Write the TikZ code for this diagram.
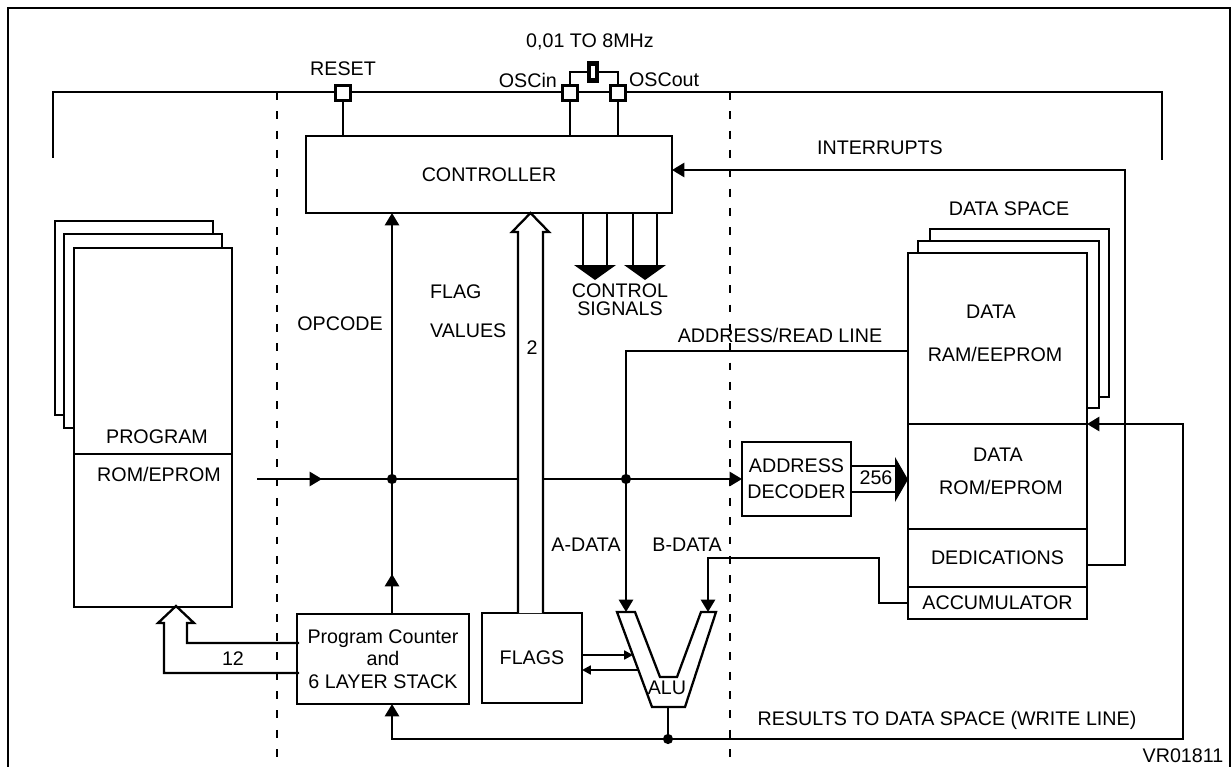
\documentclass[tikz,border=0pt]{standalone}
\usepackage{fontspec}
\setmainfont{Liberation Sans}
\usepackage{tikz}
\usetikzlibrary{arrows.meta, positioning, calc}

\newcommand\pxu{0.02cm}

\begin{document}
\begin{tikzpicture}[
  x=0.02cm, y=-0.02cm,
  line width=1.3pt,
  font=\fontsize{11.2}{13.5}\selectfont,
  box/.style={draw, fill=white, inner sep=0pt, outer sep=0pt, align=center},
  lbl/.style={inner sep=0pt, align=center},
  padbox/.style={draw, fill=white, inner sep=0pt, outer sep=0pt, minimum size=15*\pxu},
  xtal/.style={draw, fill=white, line width=2.4pt, inner sep=0pt, outer sep=0pt,
               minimum width=8*\pxu, minimum height=17*\pxu},
  arr/.style={-{Triangle[length=7pt,width=8pt]}},
  sarr/.style={-{Triangle[length=5pt,width=5pt]}},
  divider/.style={line width=1.6pt, dash pattern=on 4.5pt off 6.5pt},
  jdot/.style={circle, fill, inner sep=0pt, minimum size=5.8pt}
]
  \useasboundingbox (0,0) rectangle (1231,767);

  % frame, supply bracket, chip boundaries
  \draw[line width=1.1pt] (8,767) -- (8,8) -- (1230,8) -- (1230,767);
  \draw (53,158) -- (53,92) -- (1162,92) -- (1162,160);
  \draw[divider] (277,92) -- (277,767);
  \draw[divider] (730,92) -- (730,767);

  % controller and its pins
  \node[box, minimum width=366*\pxu, minimum height=77*\pxu] (ctrl) at (489,174.5) {CONTROLLER};
  \node[padbox] (reset)  at (343,93) {};
  \node[padbox] (oscin)  at (570,93) {};
  \node[padbox] (oscout) at (618,93) {};
  \node[xtal]   (xtal)   at (593,72) {};
  \draw (reset.south)  -- (reset.south  |- ctrl.north);
  \draw (oscin.south)  -- (oscin.south  |- ctrl.north);
  \draw (oscout.south) -- (oscout.south |- ctrl.north);
  \draw (oscin.north)  |- (xtal.west);
  \draw (oscout.north) |- (xtal.east);
  \node[lbl, above=5pt of reset] {RESET};
  \node[lbl] at (590,42) {0,01 TO 8MHz};
  \node[lbl, anchor=east] at (558,80) {OSCin};
  \node[lbl, anchor=west] at (628,80) {OSCout};

  % program memory
  \draw[fill=white] (55,221) rectangle (213,415);
  \draw[fill=white] (64,234) rectangle (222,428);
  \node[box, minimum width=158*\pxu, minimum height=206*\pxu] (prog) at (153,351) {};
  \node[box, minimum width=158*\pxu, minimum height=153*\pxu] (rom)  at (153,530.5) {};
  \node[lbl] at (157,437) {PROGRAM};
  \node[lbl] at (159,474) {ROM/EPROM};

  % data space
  \node[lbl] at (1009,209) {DATA SPACE};
  \draw[fill=white] (930,229) rectangle (1109,397);
  \draw[fill=white] (918,241) rectangle (1099,408);
  \node[box, minimum width=179*\pxu, minimum height=171*\pxu] (dram)  at (997.5,338.5) {};
  \node[box, minimum width=179*\pxu, minimum height=105*\pxu] (drom)  at (997.5,476.5) {};
  \node[box, minimum width=179*\pxu, minimum height=58*\pxu]  (dedic) at (997.5,558) {DEDICATIONS};
  \node[box, minimum width=179*\pxu, minimum height=32*\pxu]  (accum) at (997.5,603) {ACCUMULATOR};
  \node[lbl] at (991,312)  {DATA};
  \node[lbl] at (995,354)  {RAM/EEPROM};
  \node[lbl] at (998,455)  {DATA};
  \node[lbl] at (1001,487) {ROM/EPROM};

  % decoder, pc, flags
  \node[box, minimum width=109*\pxu, minimum height=74*\pxu] (dec) at (796.5,479) {ADDRESS\\[1.5pt]DECODER};
  \node[box, minimum width=172*\pxu, minimum height=90*\pxu,
        font=\fontsize{11.2}{12.8}\selectfont] (pc) at (383,659) {Program Counter\\and\\6 LAYER STACK};
  \node[box, minimum width=100*\pxu, minimum height=90*\pxu] (flags) at (532,658) {FLAGS};

  % ALU
  \draw (617,612) -- (652,707) -- (685,707) -- (716,612) -- (701,612)
        -- (677,677) -- (660,677) -- (635,612) -- cycle;
  \node[lbl] (alu) at (667,688) {ALU};
  \coordinate (alua) at (626,612);
  \coordinate (alub) at (708,612);
  \coordinate (aluo) at (668,707);

  % main bus
  \coordinate (busin) at (257,479);
  \coordinate (op)    at (392,479);
  \coordinate (adot)  at (626,479);
  \draw[arr] (busin) -- (dec.west);
  \draw[arr] (busin) -- (322,479);
  \draw[arr] (pc.north -| op) -- (ctrl.south -| op);
  \draw[arr] (pc.north -| op) -- ++(0,-40);
  \node[jdot] at (op) {};
  \node[jdot] at (adot) {};

  % flag values
  \draw[fill=white] (518,613) -- (518,232) -- (512,232) -- (530.5,213)
                    -- (549,232) -- (543,232) -- (543,613);
  \node[lbl] at (532,348) {2};

  % control signals
  \foreach \cx in {595,645} {
    \draw (\cx-12,213) -- (\cx-12,265) (\cx+12,213) -- (\cx+12,265);
    \fill (\cx-21,265) -- (\cx+21,265) -- (\cx,280) -- cycle;
  }

  % read line, operands
  \coordinate (rd) at (908,351);
  \draw (adot) |- (rd);
  \draw[arr] (adot) -- (alua);
  \coordinate (bturn) at (879,558);
  \draw[arr] (accum.west) -| (bturn) -| (alub);
  \coordinate (fa) at (633,655);
  \coordinate (fb) at (638,670);
  \draw[sarr] (fa -| flags.east) -- (fa);
  \draw[sarr] (fb) -- (fb -| flags.east);

  % write line
  \coordinate (rdot) at (668,739);
  \coordinate (wr) at (1183,424);
  \draw (aluo) -- (rdot);
  \draw[arr] (rdot) -| (pc.south -| op);
  \draw[arr] (rdot) -| (wr) -- (wr -| drom.east);
  \node[jdot] at (rdot) {};

  % interrupts
  \coordinate (intr) at (1125,170);
  \draw[arr] ([yshift=-4pt]dedic.east) -| (intr) -- (intr -| ctrl.east);

  % pc to program memory (12)
  \draw (299,643) -- (187,643) -- (187,623) -- (194,623) -- (176,606)
        -- (158,623) -- (164,623) -- (164,673) -- (299,673);
  \node[lbl] at (233,659) {12};

  % decoder to data rom (256)
  \draw (dec.east |- 0,466) -- (895,466);
  \draw (dec.east |- 0,492) -- (895,492);
  \fill (895,457) -- (908,479.5) -- (895,502) -- cycle;
  \node[lbl] at (876,478) {256};

  % labels
  \node[lbl] at (880,148) {INTERRUPTS};
  \node[lbl, font=\fontsize{11.2}{10}\selectfont] at (620,300) {CONTROL\\SIGNALS};
  \node[lbl, anchor=west] at (429,292) {FLAG};
  \node[lbl, anchor=west] at (429,331) {VALUES};
  \node[lbl] at (340,324) {OPCODE};
  \node[lbl] at (780,335) {ADDRESS/READ LINE};
  \node[lbl] at (586,545) {A-DATA};
  \node[lbl] at (687,545) {B-DATA};
  \node[lbl] at (947,720) {RESULTS TO DATA SPACE (WRITE LINE)};
  \node[lbl] at (1183,756) {VR01811};
\end{tikzpicture}
\end{document}
